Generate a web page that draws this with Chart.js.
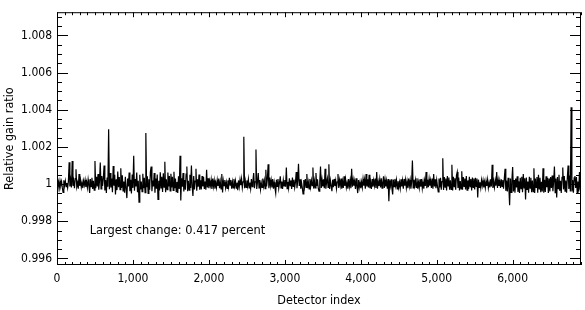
<!DOCTYPE html>
<html>
<head>
<meta charset="utf-8">
<script src="https://cdn.jsdelivr.net/npm/chart.js@4.4.1/dist/chart.umd.min.js"></script>
<style>
  body { margin: 0; background: #fff; }
  #wrap { width: 585px; height: 310px; }
</style>
</head>
<body>
<div id="wrap"><canvas id="gainChart" width="585" height="310"></canvas></div>
<script>
/* ===============================
   DATA
================================ */
const DETECTOR_STEP = 10;          // one sample every 10 detectors
const X_MIN = 0;
const X_MAX = 6900;
const Y_MIN = 0.99565;
const Y_MAX = 1.00925;

const xTickVals = [0, 1000, 2000, 3000, 4000, 5000, 6000];
const yTickVals = [0.996, 0.998, 1, 1.002, 1.004, 1.006, 1.008];

// gain ratio minus 1, in units of 0.00001, detector 0, 10, 20 ...
const gainDevE5 = [
  // 0 - 490
  3, -16, 12, -20, 18, -6, 14, -19, -45, 21,
  -8, 17, -14, 6, -20, 15, 118, -12, 22, -18,
  124, -9, 17, -22, 30, 80, -14, 8, -24, 55,
  -10, 20, -17, 9, -21, 18, -6, 22, -15, 12,
  -19, 25, -8, -48, 28, -14, 34, -26, 18, -32,
  // 500 - 990
  124, -22, 40, -12, 55, -30, 18, 116, -26, 44,
  -10, 32, 100, -34, 22, -48, 36, -14, 295, -28,
  60, -18, 30, -44, 97, -8, 50, -55, 26, -32,
  68, -16, 38, -30, 86, -20, 48, -36, 14, -46,
  40, -24, -75, 30, -12, 62, -38, 24, -50, 52,
  // 1000 - 1490
  -20, 153, -36, 28, -12, 62, -44, 18, -97, 50,
  -28, 14, -40, 56, -22, 34, -46, 275, -16, 42,
  -50, 26, -30, 68, 95, -38, 20, -12, 60, -46,
  30, -24, 52, -82, 18, -34, 64, -20, 40, -42,
  58, -16, 120, -44, 26, -30, 62, -12, 44, -36,
  // 1500 - 1990
  56, -18, 40, -34, 66, -22, 30, -40, 12, -48,
  42, -26, 153, -88, 32, -14, 60, -40, 22, -30,
  54, 95, -38, 18, -32, 50, -20, 100, -12, -64,
  44, -28, 16, 83, -36, 26, -14, 52, -30, 20,
  -28, 44, -12, 38, -26, 14, -30, 77, -18, 32,
  // 2000 - 2490
  -22, 16, -8, 24, -26, 30, -12, 20, -24, 8,
  -18, 22, -10, 30, -22, 14, -26, 55, -45, 18,
  -8, 22, -19, 10, -23, 20, -14, 34, -6, 22,
  -25, 12, -20, 28, -10, 18, -22, 8, -32, 20,
  -14, 24, -6, 28, -20, 12, 255, -22, 16, -18,
  // 2500 - 2990
  20, -10, 26, -20, 8, -24, 28, -14, 18, 60,
  -22, 12, 186, -26, 10, 60, -20, 22, -28, 6,
  -18, 30, -10, 20, -24, 77, -12, 26, 107, -22,
  36, -8, 22, -18, 28, -24, 10, -20, -48, 24,
  -12, 28, -22, 8, 42, -20, 14, -26, 22, -10,
  // 3000 - 3490
  22, -14, 90, -24, 12, -20, 32, -8, 20, -26,
  36, -12, 24, -18, 10, 65, -22, 18, 109, -10,
  26, -24, 8, -20, -52, 22, -12, 28, -18, 55,
  -22, 10, -26, 28, -14, 20, -8, 90, -24, 16,
  -20, 60, -10, 26, -22, -38, 14, 95, -20, 24,
  // 3500 - 3990
  -12, 26, -22, 83, -24, 10, 32, -18, 107, -26,
  20, -8, -38, 24, -16, 28, -10, 18, -24, 12,
  55, -20, 22, -8, 30, -25, 14, -20, 42, -10,
  26, -18, 8, -24, 28, -12, 20, -22, 83, -14,
  24, -8, 18, -26, 32, -12, -48, 22, -18, 10,
  // 4000 - 4490
  -22, 12, -18, 28, -8, 24, -24, 55, -12, 26,
  -18, 50, -22, 10, -26, 28, -14, 20, -8, 30,
  -20, 65, -24, 14, -10, 26, -18, 32, -22, 8,
  42, -20, 24, -12, 18, -24, 28, -92, 20, -10,
  26, -22, -55, 24, -14, 28, -8, 22, -26, 16,
  // 4500 - 4990
  -18, 10, -22, 26, -12, 20, -24, 28, -8, 24,
  -20, 14, -22, 30, -10, 22, -24, 12, 127, -20,
  24, -8, 22, -18, 32, -24, 10, -20, 26, -14,
  28, -22, 12, -24, 20, -10, 65, -22, 24, -16,
  28, -8, 20, -20, 30, -24, 55, -12, 26, -22,
  // 5000 - 5490
  22, -12, -42, 30, -18, 34, -30, 14, 139, -32,
  38, -16, 30, -34, 44, -10, 36, -30, 20, -28,
  104, -34, 40, -14, 32, -30, 48, 65, -20, 36,
  -34, 16, -26, 69, -30, 38, -12, 30, -28, 44,
  -32, 20, -26, 40, -14, 28, -34, 36, -18, 30,
  // 5500 - 5990
  -28, 34, -12, 30, -72, 24, -18, 10, -20, 22,
  -8, 20, -18, 12, -20, 18, -10, 24, -20, 8,
  -18, 26, -12, 104, -20, 14, -18, 20, -8, 65,
  -20, 22, -10, 18, -20, 26, -12, 22, -24, 30,
  83, -36, 20, -40, 34, -18, -114, 30, -44, 24,
  // 6000 - 6490
  92, -40, 22, -46, 30, -18, 42, -42, 16, -48,
  34, -24, 40, -44, 55, -20, 32, -82, 36, -28,
  14, -46, 40, -22, 34, -44, 20, -40, 86, -48,
  30, -18, 38, -46, 50, -26, 34, -44, 12, -40,
  86, -46, 24, -42, 42, -16, 34, -48, 30, -40,
  // 6500 - 6890
  38, -20, 46, -38, 16, 95, -46, 30, -72, 38,
  -24, 50, -36, 18, -48, 36, 90, -28, 44, -38,
  20, -46, 34, 100, -26, 46, -40, 414, -40, 22,
  -46, 34, 44, -20, 38, -44, 14, -40, 65, -30
];

const noteText = "Largest change: 0.417 percent";
const notePos = [430, 0.99752];   // detector, ratio

const FONT = "'Liberation Sans Narrow', 'DejaVu Sans Condensed', 'Arial Narrow', sans-serif";

/* ===============================
   FRAME + INWARD TICKS + NOTE
================================ */
const frameTicks = {
  id: "frameTicks",
  afterDraw(chart) {
    const { ctx, chartArea: a, scales: { x, y } } = chart;
    ctx.save();
    ctx.strokeStyle = "#000";
    ctx.lineWidth = 1;
    ctx.beginPath();

    // x: minor every 100, major every 1000
    for (let v = X_MIN; v <= X_MAX; v += 100) {
      const px = Math.round(x.getPixelForValue(v)) + 0.5;
      const len = v % 1000 === 0 ? 5 : 3;
      ctx.moveTo(px, a.bottom); ctx.lineTo(px, a.bottom - len);
      ctx.moveTo(px, a.top);    ctx.lineTo(px, a.top + len);
    }

    // y: minor every 0.0005, major every 0.002
    for (let k = Math.ceil(Y_MIN * 2000); k / 2000 <= Y_MAX; k++) {
      const py = Math.round(y.getPixelForValue(k / 2000)) + 0.5;
      const len = k % 4 === 0 ? 11 : 5;
      ctx.moveTo(a.left, py);  ctx.lineTo(a.left + len, py);
      ctx.moveTo(a.right, py); ctx.lineTo(a.right - len, py);
    }
    ctx.stroke();

    ctx.strokeRect(a.left + 0.5, a.top + 0.5, a.width - 1, a.height - 1);

    ctx.fillStyle = "#000";
    ctx.font = "12.7px " + FONT;
    ctx.textAlign = "left";
    ctx.textBaseline = "middle";
    ctx.fillText(noteText, x.getPixelForValue(notePos[0]), y.getPixelForValue(notePos[1]));
    ctx.restore();
  }
};

/* ===============================
   CHART
================================ */
const points = gainDevE5.map((d, i) => ({ x: i * DETECTOR_STEP, y: 1 + d / 100000 }));

new Chart(document.getElementById("gainChart"), {
  type: "line",
  data: {
    datasets: [{
      data: points,
      borderColor: "#000",
      borderWidth: 1.2,
      pointRadius: 0,
      tension: 0,
      fill: false
    }]
  },
  options: {
    responsive: false,
    animation: false,
    devicePixelRatio: 1,
    layout: { padding: { top: 4, right: 4, left: 0, bottom: 0 } },
    plugins: { legend: { display: false }, tooltip: { enabled: false } },
    scales: {
      x: {
        type: "linear",
        min: X_MIN,
        max: X_MAX,
        grid: { display: false, drawTicks: false },
        border: { display: false },
        afterBuildTicks: s => { s.ticks = xTickVals.map(v => ({ value: v })); },
        afterFit: s => { s.height = 45; },
        ticks: {
          color: "#000",
          padding: 7,
          maxRotation: 0,
          font: { family: FONT, size: 12 },
          callback: v => v.toLocaleString("en-US")
        },
        title: {
          display: true,
          text: "Detector index",
          color: "#000",
          padding: { top: 0, bottom: 2 },
          font: { family: FONT, size: 12.5 }
        }
      },
      y: {
        min: Y_MIN,
        max: Y_MAX,
        grid: { display: false, drawTicks: false },
        border: { display: false },
        afterBuildTicks: s => { s.ticks = yTickVals.map(v => ({ value: v })); },
        afterFit: s => { s.width = 57; },
        ticks: {
          color: "#000",
          padding: 5,
          font: { family: FONT, size: 12 },
          callback: v => (v === 1 ? "1" : v.toFixed(3))
        },
        title: {
          display: true,
          text: "Relative gain ratio",
          color: "#000",
          padding: { top: 2, bottom: 0 },
          font: { family: FONT, size: 12.5 }
        }
      }
    }
  },
  plugins: [frameTicks]
});
</script>
</body>
</html>
